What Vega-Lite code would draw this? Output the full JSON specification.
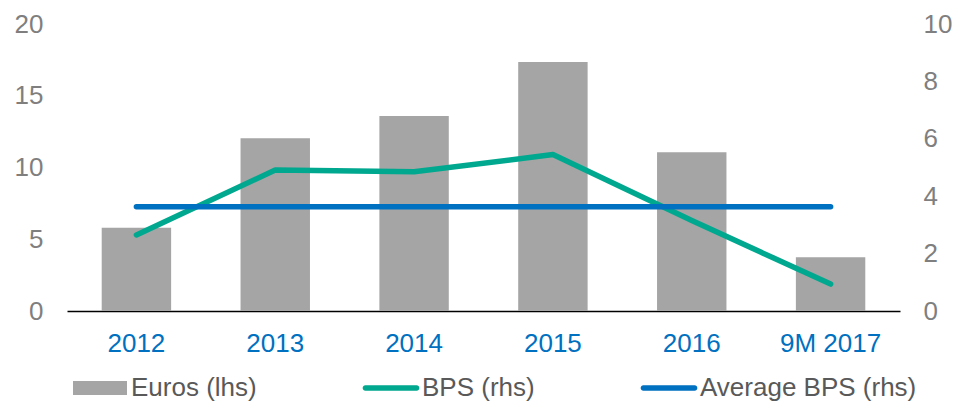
{
  "$schema": "https://vega.github.io/schema/vega-lite/v6.json",
  "width": 833,
  "height": 287,
  "autosize": "none",
  "padding": {"left": 67, "top": 24, "right": 57, "bottom": 93},
  "background": "white",
  "config": {
    "view": {"stroke": null},
    "font": "Liberation Sans",
    "axis": {"grid": false, "ticks": false, "titlePadding": 0}
  },
  "data": {
    "values": [
      {"year": "2012", "euros": 5.8, "bps": 2.65, "avg": 3.63},
      {"year": "2013", "euros": 12.03, "bps": 4.91, "avg": 3.63},
      {"year": "2014", "euros": 13.59, "bps": 4.85, "avg": 3.63},
      {"year": "2015", "euros": 17.35, "bps": 5.45, "avg": 3.63},
      {"year": "2016", "euros": 11.06, "bps": 3.15, "avg": 3.63},
      {"year": "9M 2017", "euros": 3.74, "bps": 0.94, "avg": 3.63}
    ]
  },
  "encoding": {
    "x": {
      "field": "year",
      "type": "ordinal",
      "sort": null,
      "scale": {"paddingInner": 0.5, "paddingOuter": 0.25},
      "axis": {
        "title": null,
        "labelAngle": 0,
        "labelFontSize": 26,
        "labelColor": "#0070C0",
        "labelPadding": 19,
        "domainColor": "#000000",
        "domainWidth": 1.5
      }
    }
  },
  "layer": [
    {
      "mark": {"type": "bar", "color": "#A5A5A5"},
      "encoding": {
        "y": {
          "field": "euros",
          "type": "quantitative",
          "scale": {"domain": [0, 20]},
          "axis": {
            "title": null,
            "values": [0, 5, 10, 15, 20],
            "domain": false,
            "labelFontSize": 26,
            "labelColor": "#7F7F7F",
            "labelPadding": 24
          }
        },
        "color": {
          "datum": "Euros (lhs)",
          "scale": {
            "domain": ["Euros (lhs)", "BPS (rhs)", "Average BPS (rhs)"],
            "range": ["#A5A5A5", "#00A88F", "#0070C0"]
          },
          "legend": {
            "title": null,
            "orient": "none",
            "direction": "horizontal",
            "legendX": 6,
            "legendY": 337,
            "padding": 0,
            "columnPadding": 105,
            "labelFontSize": 26,
            "labelColor": "#595959",
            "labelOffset": 4,
            "labelLimit": 0,
            "symbolSize": 2916,
            "symbolType": "M-1,-0.26H1V0.26H-1Z",
            "symbolStrokeWidth": 0,
            "encode": {
              "symbols": {
                "update": {
                  "shape": [
                    {"test": "datum.value === 'Euros (lhs)'", "value": "M-1,-0.26H1V0.26H-1Z"},
                    {"value": "M-0.95,-0.1H0.95A0.1,0.1 0 0 1 0.95,0.1H-0.95A0.1,0.1 0 0 1 -0.95,-0.1Z"}
                  ],
                  "fill": {"scale": "color", "field": "value"},
                  "stroke": {"value": "transparent"},
                  "opacity": {"value": 1},
                  "fillOpacity": {"value": 1}
                }
              }
            }
          }
        }
      }
    },
    {
      "layer": [
        {
          "mark": {"type": "line", "strokeWidth": 5.5, "strokeCap": "round", "strokeJoin": "round"},
          "encoding": {
            "y": {
              "field": "bps",
              "type": "quantitative",
              "scale": {"domain": [0, 10]},
              "axis": {
                "title": null,
                "orient": "right",
                "values": [0, 2, 4, 6, 8, 10],
                "domain": false,
                "labelFontSize": 26,
                "labelColor": "#7F7F7F",
                "labelPadding": 23
              }
            },
            "color": {"datum": "BPS (rhs)"}
          }
        },
        {
          "mark": {"type": "line", "strokeWidth": 5.5, "strokeCap": "round"},
          "encoding": {
            "y": {"field": "avg", "type": "quantitative"},
            "color": {"datum": "Average BPS (rhs)"}
          }
        }
      ]
    }
  ],
  "resolve": {"scale": {"y": "independent"}}
}
